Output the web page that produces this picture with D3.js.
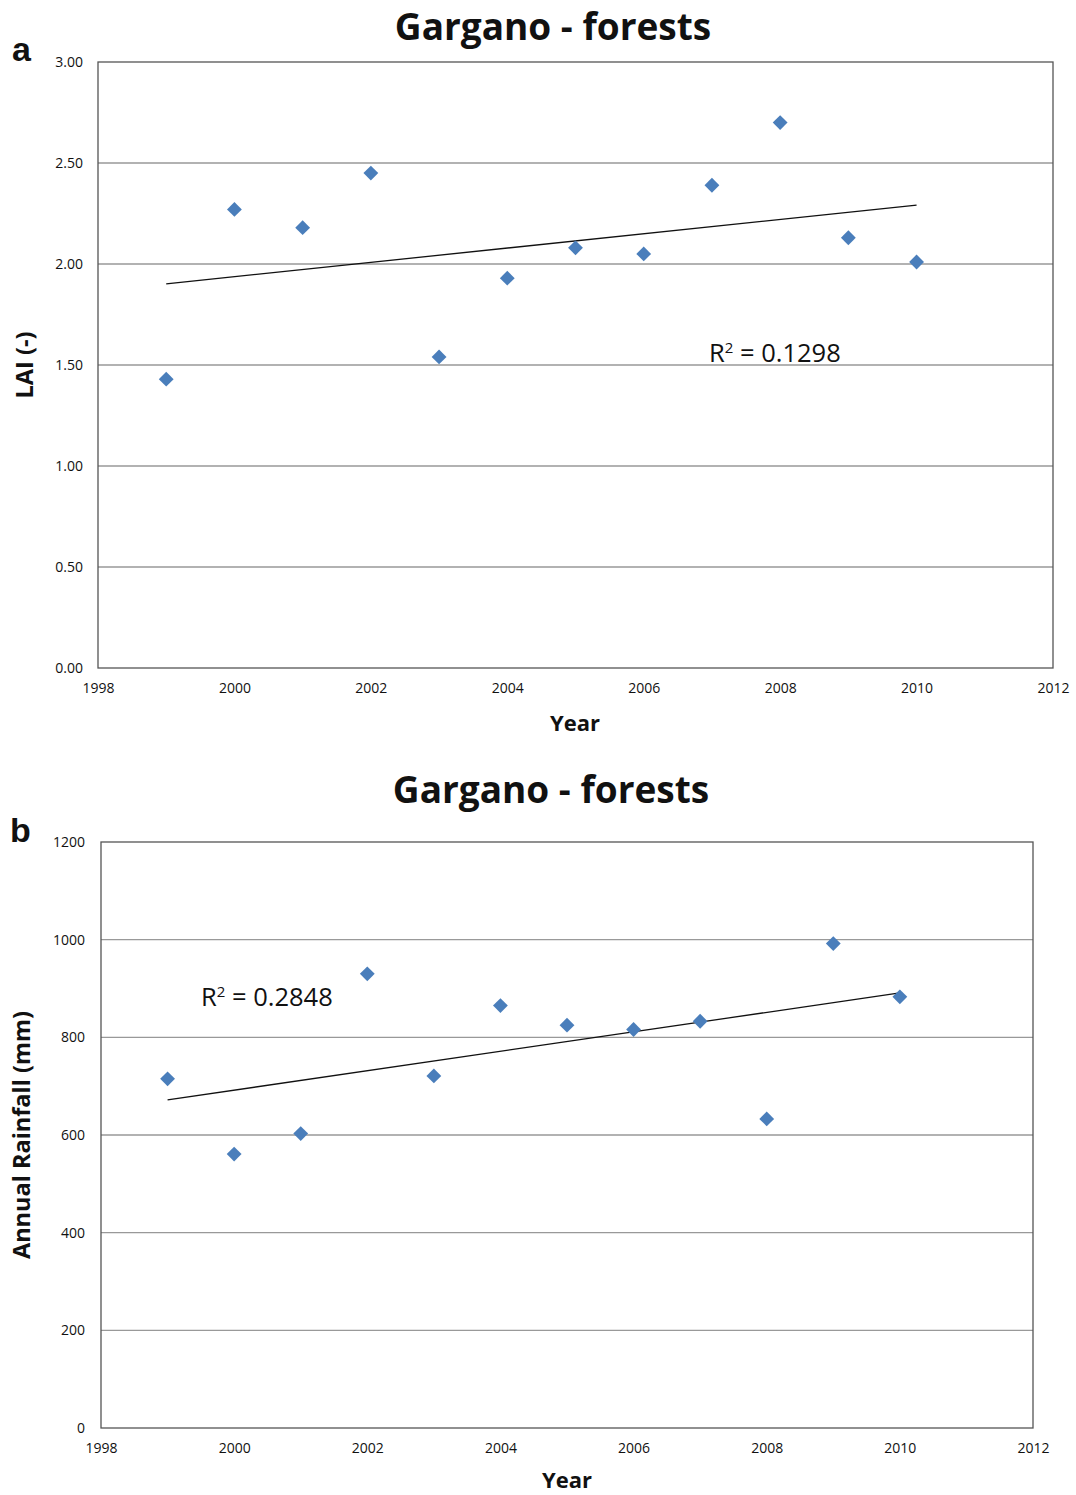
<!DOCTYPE html>
<html>
<head>
<meta charset="utf-8">
<script src="https://cdn.jsdelivr.net/npm/d3@7"></script>
<style>
  html, body { margin: 0; padding: 0; background: #fff; }
  svg { display: block; }
  text { font-family: "Open Sans", "Noto Sans", sans-serif; fill: #111; }
</style>
</head>
<body>
<svg id="chart" width="1076" height="1495"></svg>
<script>
// ---- Data ----
const years = [1999, 2000, 2001, 2002, 2003, 2004, 2005, 2006, 2007, 2008, 2009, 2010];
const laiValues = [1.43, 2.27, 2.18, 2.45, 1.54, 1.93, 2.08, 2.05, 2.39, 2.70, 2.13, 2.01];
const rainValues = [715, 561, 603, 930, 721, 865, 825, 816, 833, 633, 992, 883];
const xTicks = [1998, 2000, 2002, 2004, 2006, 2008, 2010, 2012];
const laiTicks = [0, 0.5, 1.0, 1.5, 2.0, 2.5, 3.0];
const rainTicks = [0, 200, 400, 600, 800, 1000, 1200];
const titleText = "Gargano - forests";
const laiR2 = "0.1298";
const rainR2 = "0.2848";

const svg = d3.select("#chart");

function regression(xs, ys) {
  const n = xs.length;
  const mx = d3.mean(xs), my = d3.mean(ys);
  let sxy = 0, sxx = 0;
  for (let i = 0; i < n; i++) { sxy += (xs[i]-mx)*(ys[i]-my); sxx += (xs[i]-mx)*(xs[i]-mx); }
  const b = sxy / sxx;
  return x => my + b * (x - mx);
}

function panel(cfg) {
  const g = svg.append("g");
  const x = d3.scaleLinear().domain([1998, 2012]).range([cfg.left, cfg.right]);
  const y = d3.scaleLinear().domain(cfg.yDomain).range([cfg.bottom, cfg.top]);

  // gridlines
  g.append("g").selectAll("line").data(cfg.yTicks.filter(t => t > cfg.yDomain[0] && t < cfg.yDomain[1]))
    .join("line")
    .attr("x1", cfg.left).attr("x2", cfg.right)
    .attr("y1", d => y(d)).attr("y2", d => y(d))
    .attr("stroke", "#999").attr("stroke-width", 1.3);

  // frame
  g.append("rect")
    .attr("x", cfg.left).attr("y", cfg.top)
    .attr("width", cfg.right - cfg.left).attr("height", cfg.bottom - cfg.top)
    .attr("fill", "none").attr("stroke", "#555").attr("stroke-width", 1.3);

  // Y axis
  const yAxis = d3.axisLeft(y).tickValues(cfg.yTicks).tickSize(0).tickPadding(cfg.yPad).tickFormat(cfg.yFormat);
  const ya = g.append("g").attr("transform", `translate(${cfg.left},0)`).call(yAxis);
  ya.select(".domain").remove();
  ya.selectAll("text").style("font-size", "14px").attr("fill", "#222").attr("font-family", '"Open Sans", sans-serif');

  // X axis
  const xAxis = d3.axisBottom(x).tickValues(xTicks).tickSize(0).tickPadding(15).tickFormat(d3.format("d"));
  const xa = g.append("g").attr("transform", `translate(0,${cfg.bottom})`).call(xAxis);
  xa.select(".domain").remove();
  xa.selectAll("text").style("font-size", "14px").attr("fill", "#222").attr("font-family", '"Open Sans", sans-serif');

  // trendline
  const f = regression(years, cfg.values);
  const x0 = d3.min(years), x1 = d3.max(years);
  g.append("line")
    .attr("x1", x(x0)).attr("y1", y(f(x0)))
    .attr("x2", x(x1)).attr("y2", y(f(x1)))
    .attr("stroke", "#111").attr("stroke-width", 1.3);

  // points
  const sym = d3.symbol().type(d3.symbolDiamond2).size(140);
  g.append("g").selectAll("path").data(years.map((yr, i) => [yr, cfg.values[i]]))
    .join("path")
    .attr("d", sym)
    .attr("transform", d => `translate(${x(d[0])},${y(d[1])})`)
    .attr("fill", "#4a7ebb");

  // R2 label
  const r = g.append("text").attr("x", cfg.r2x).attr("y", cfg.r2y).style("font-size", "25.5px").attr("fill", "#111");
  r.append("tspan").text("R");
  r.append("tspan").text("2").attr("dy", -9).style("font-size", "15px");
  r.append("tspan").text(" = " + cfg.r2).attr("dy", 9);

  // title
  g.append("text").attr("x", cfg.titleX).attr("y", cfg.titleY).attr("text-anchor", "middle")
    .style("font-size", "37px").style("font-weight", "bold").text(titleText);

  // panel letter
  g.append("text").attr("x", cfg.letterX).attr("y", cfg.letterY)
    .style("font-family", '"Liberation Sans", Arial, sans-serif')
    .style("font-size", "34px").style("font-weight", "bold").text(cfg.letter);

  // axis titles
  g.append("text").attr("x", cfg.xTitleX).attr("y", cfg.xTitleY).attr("text-anchor", "middle")
    .style("font-size", "22px").style("font-weight", "bold").text("Year");
  g.append("text").attr("transform", `translate(${cfg.yTitleX},${cfg.yTitleY}) rotate(-90)`)
    .attr("text-anchor", "middle")
    .style("font-size", "23.5px").style("font-weight", "bold").text(cfg.yTitle);
}

panel({
  left: 98, right: 1053, top: 62, bottom: 668,
  yDomain: [0, 3], yTicks: laiTicks, yFormat: d3.format(".2f"), yPad: 15,
  values: laiValues, r2: laiR2, r2x: 709, r2y: 362,
  titleX: 553, titleY: 40, letter: "a", letterX: 12, letterY: 61,
  xTitleX: 575, xTitleY: 731, yTitleX: 33, yTitleY: 365, yTitle: "LAI (-)"
});

panel({
  left: 101, right: 1033, top: 842, bottom: 1428,
  yDomain: [0, 1200], yTicks: rainTicks, yFormat: d3.format("d"), yPad: 16,
  values: rainValues, r2: rainR2, r2x: 201, r2y: 1006,
  titleX: 551, titleY: 803, letter: "b", letterX: 10, letterY: 842,
  xTitleX: 567, xTitleY: 1488, yTitleX: 30, yTitleY: 1135, yTitle: "Annual Rainfall (mm)"
});
</script>
</body>
</html>
